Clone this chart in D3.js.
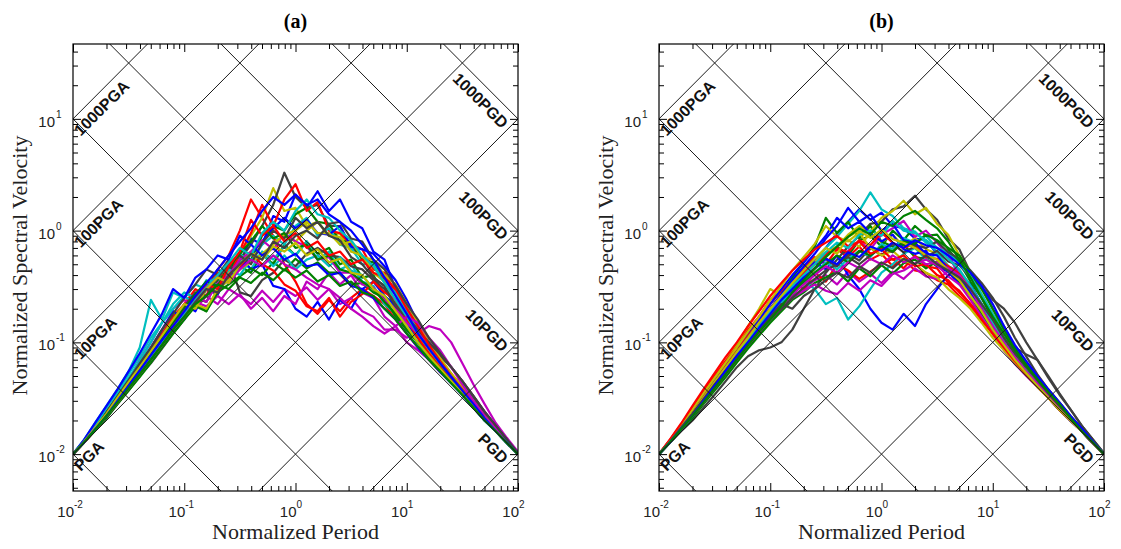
<!DOCTYPE html>
<html>
<head>
<meta charset="utf-8">
<script src="https://cdn.jsdelivr.net/npm/d3@7"></script>
<style>
  body { margin: 0; background: #fff; }
  svg { display: block; }
</style>
</head>
<body>
<div id="chart"></div>
<script>
// normalized period grid shared by every spectrum
const periods = [0.01,0.0126,0.0158,0.02,0.0251,0.0316,0.0398,0.0501,0.0631,0.0794,
                 0.1,0.126,0.158,0.2,0.251,0.316,0.398,0.501,0.631,0.794,
                 1,1.26,1.58,2,2.51,3.16,3.98,5.01,6.31,7.94,
                 10,12.6,15.8,20,25.1,31.6,39.8,50.1,63.1,79.4,100];

// panel (a) normalized spectral velocities
const spectraA = [
  [0.01,0.013,0.017,0.023,0.031,0.042,0.06,0.08,0.12,0.15, 0.22,0.19,0.3,0.27,0.45,0.52,0.85,0.75,1.35,1.2, 2.1,1.6,2.25,1.5,1.9,1.2,1.05,0.65,0.55,0.3, 0.22,0.13,0.1,0.066,0.052,0.038,0.029,0.022,0.017,0.013,0.01],
  [0.01,0.0128,0.0165,0.022,0.029,0.039,0.052,0.07,0.1,0.13, 0.17,0.22,0.19,0.3,0.36,0.48,0.42,0.62,0.5,0.75, 0.6,0.8,0.62,0.7,0.5,0.55,0.38,0.4,0.26,0.21, 0.14,0.11,0.075,0.06,0.045,0.035,0.027,0.021,0.016,0.0127,0.01],
  [0.01,0.013,0.017,0.023,0.031,0.043,0.06,0.085,0.12,0.17, 0.22,0.3,0.26,0.45,0.6,1.0,1.9,1.3,0.9,0.5, 0.35,0.22,0.18,0.24,0.19,0.25,0.3,0.26,0.22,0.16, 0.12,0.09,0.07,0.054,0.044,0.034,0.026,0.02,0.016,0.0126,0.01],
  [0.01,0.0135,0.019,0.027,0.038,0.055,0.09,0.24,0.16,0.28, 0.25,0.33,0.3,0.42,0.36,0.55,0.45,0.65,0.55,0.72, 0.6,0.8,0.55,0.65,0.45,0.5,0.35,0.32,0.22,0.18, 0.13,0.1,0.072,0.055,0.043,0.034,0.026,0.02,0.016,0.0126,0.01],
  [0.01,0.0128,0.0168,0.023,0.032,0.045,0.07,0.1,0.15,0.2, 0.24,0.2,0.26,0.22,0.3,0.26,0.22,0.29,0.23,0.3, 0.26,0.31,0.24,0.3,0.22,0.25,0.19,0.17,0.13,0.13, 0.11,0.12,0.14,0.13,0.1,0.065,0.042,0.028,0.019,0.014,0.0105],
  [0.01,0.0128,0.0166,0.022,0.029,0.039,0.052,0.07,0.095,0.13, 0.17,0.22,0.3,0.28,0.45,0.6,0.9,1.3,2.4,1.5, 1.6,1.1,1.2,0.9,0.95,0.65,0.6,0.42,0.36,0.23, 0.17,0.12,0.085,0.062,0.047,0.036,0.028,0.021,0.016,0.0128,0.01],
  [0.01,0.0127,0.0164,0.021,0.028,0.037,0.05,0.065,0.088,0.12, 0.16,0.22,0.3,0.45,0.38,0.55,0.75,1.1,1.7,3.3, 2.0,1.6,1.7,1.1,1.1,0.7,0.6,0.38,0.32,0.2, 0.16,0.12,0.09,0.075,0.06,0.045,0.032,0.023,0.017,0.013,0.01],
  [0.01,0.013,0.017,0.023,0.031,0.043,0.062,0.09,0.13,0.19, 0.16,0.26,0.33,0.3,0.45,0.6,0.45,0.5,0.32,0.3, 0.2,0.17,0.23,0.16,0.24,0.2,0.3,0.35,0.26,0.21, 0.15,0.11,0.08,0.06,0.046,0.035,0.027,0.021,0.016,0.0126,0.01],
  [0.01,0.0128,0.0167,0.022,0.03,0.041,0.056,0.076,0.1,0.14, 0.19,0.25,0.23,0.36,0.45,0.62,0.55,0.9,1.1,1.0, 1.4,1.6,1.2,1.15,0.8,0.8,0.55,0.52,0.35,0.27, 0.18,0.13,0.092,0.068,0.052,0.04,0.03,0.022,0.017,0.013,0.01],
  [0.01,0.0127,0.0164,0.022,0.029,0.039,0.052,0.07,0.095,0.13, 0.17,0.24,0.3,0.42,0.38,0.62,0.95,1.7,1.1,1.9, 2.6,1.5,1.8,1.0,0.95,0.75,0.68,0.45,0.42,0.28, 0.2,0.14,0.1,0.072,0.052,0.039,0.029,0.022,0.017,0.013,0.01],
  [0.01,0.013,0.0172,0.024,0.034,0.048,0.068,0.1,0.15,0.2, 0.26,0.22,0.34,0.38,0.5,0.62,0.52,0.75,0.9,0.75, 1.1,1.3,0.9,1.05,0.75,0.7,0.5,0.5,0.34,0.28, 0.19,0.13,0.09,0.066,0.05,0.038,0.029,0.022,0.017,0.013,0.01],
  [0.01,0.0128,0.0166,0.022,0.03,0.041,0.056,0.08,0.11,0.15, 0.19,0.23,0.21,0.26,0.22,0.27,0.2,0.25,0.19,0.26, 0.22,0.35,0.3,0.42,0.33,0.4,0.28,0.25,0.17,0.14, 0.1,0.085,0.07,0.058,0.046,0.036,0.028,0.021,0.016,0.0127,0.01],
  [0.01,0.0128,0.0166,0.022,0.03,0.04,0.055,0.075,0.1,0.14, 0.18,0.24,0.3,0.27,0.42,0.5,0.65,0.55,0.78,0.9, 0.8,1.0,1.2,0.9,0.88,0.65,0.6,0.42,0.35,0.22, 0.16,0.115,0.082,0.062,0.047,0.036,0.028,0.021,0.016,0.0126,0.01],
  [0.01,0.013,0.0172,0.024,0.033,0.046,0.065,0.09,0.13,0.18, 0.25,0.33,0.45,0.4,0.55,0.28,0.26,0.36,0.42,0.55, 0.48,0.62,0.7,0.6,0.58,0.48,0.45,0.36,0.3,0.22, 0.16,0.12,0.09,0.065,0.048,0.037,0.028,0.021,0.016,0.0127,0.01],
  [0.01,0.0128,0.0167,0.022,0.03,0.04,0.055,0.075,0.1,0.14, 0.19,0.24,0.3,0.27,0.4,0.45,0.62,0.8,1.05,1.3, 1.05,1.25,0.95,0.92,1.1,0.72,0.68,0.62,0.48,0.36, 0.24,0.15,0.1,0.07,0.052,0.039,0.03,0.022,0.017,0.013,0.01],
  [0.01,0.0127,0.0163,0.021,0.028,0.037,0.049,0.066,0.09,0.12, 0.16,0.21,0.19,0.28,0.33,0.39,0.46,0.4,0.52,0.44, 0.56,0.46,0.52,0.42,0.42,0.33,0.34,0.28,0.25,0.17, 0.13,0.1,0.075,0.057,0.044,0.034,0.026,0.02,0.016,0.0126,0.01],
  [0.01,0.0128,0.0166,0.022,0.029,0.039,0.053,0.072,0.1,0.13, 0.18,0.22,0.3,0.28,0.4,0.48,0.62,0.5,0.44,0.33, 0.29,0.21,0.19,0.25,0.17,0.23,0.27,0.35,0.28,0.24, 0.16,0.11,0.08,0.06,0.046,0.035,0.027,0.021,0.016,0.0127,0.01],
  [0.01,0.0133,0.018,0.026,0.036,0.052,0.075,0.11,0.15,0.22, 0.28,0.25,0.36,0.33,0.45,0.4,0.55,0.62,0.48,0.6, 0.45,0.55,0.6,0.48,0.58,0.44,0.4,0.3,0.26,0.19, 0.14,0.1,0.075,0.057,0.044,0.034,0.026,0.02,0.016,0.0126,0.01],
  [0.01,0.0128,0.0167,0.022,0.03,0.041,0.057,0.078,0.11,0.15, 0.2,0.26,0.23,0.34,0.4,0.55,0.65,0.82,0.68,0.95, 0.8,0.72,0.55,0.58,0.42,0.42,0.33,0.31,0.24,0.2, 0.15,0.12,0.1,0.08,0.06,0.045,0.033,0.024,0.018,0.0135,0.0102],
  [0.01,0.0127,0.0164,0.022,0.029,0.039,0.052,0.07,0.095,0.13, 0.17,0.22,0.2,0.3,0.36,0.45,0.52,0.62,0.75,0.92, 1.0,1.2,0.95,0.95,0.75,0.8,0.58,0.55,0.4,0.33, 0.22,0.15,0.1,0.072,0.053,0.04,0.03,0.022,0.017,0.013,0.01],
  [0.01,0.0129,0.017,0.023,0.031,0.043,0.06,0.082,0.115,0.16, 0.21,0.28,0.26,0.38,0.5,0.6,0.5,0.78,1.0,0.85, 1.3,1.05,1.2,0.9,0.82,0.58,0.5,0.38,0.32,0.21, 0.17,0.13,0.1,0.078,0.06,0.045,0.033,0.024,0.018,0.0135,0.0102],
  [0.01,0.0135,0.019,0.027,0.038,0.055,0.08,0.12,0.18,0.3, 0.25,0.38,0.45,0.6,0.55,0.9,0.75,0.6,0.7,0.55, 0.62,0.48,0.5,0.4,0.42,0.32,0.3,0.25,0.2,0.16, 0.12,0.09,0.07,0.054,0.043,0.034,0.026,0.02,0.016,0.0126,0.01],
  [0.01,0.0129,0.017,0.023,0.031,0.042,0.058,0.08,0.11,0.15, 0.2,0.27,0.35,0.32,0.48,0.62,0.8,1.1,0.85,0.95, 0.7,0.75,0.55,0.6,0.45,0.42,0.35,0.3,0.23,0.18, 0.13,0.1,0.075,0.058,0.045,0.035,0.027,0.021,0.016,0.0127,0.01],
  [0.01,0.0128,0.0166,0.022,0.03,0.04,0.055,0.075,0.1,0.14, 0.19,0.25,0.33,0.3,0.48,0.65,1.25,0.9,1.1,0.8, 0.95,0.7,0.8,0.6,0.65,0.5,0.55,0.42,0.38,0.3, 0.2,0.14,0.095,0.068,0.05,0.038,0.029,0.022,0.017,0.013,0.01],
  [0.01,0.0128,0.0166,0.022,0.03,0.04,0.054,0.073,0.1,0.13, 0.18,0.24,0.31,0.4,0.52,0.7,0.6,0.95,1.2,1.0, 1.5,1.9,1.4,1.3,1.0,0.82,0.6,0.48,0.34,0.24, 0.17,0.12,0.088,0.065,0.049,0.037,0.028,0.021,0.016,0.0127,0.01],
  [0.01,0.0128,0.0166,0.022,0.029,0.039,0.052,0.07,0.095,0.13, 0.17,0.23,0.3,0.38,0.34,0.45,0.55,0.48,0.6,0.5, 0.45,0.38,0.33,0.3,0.25,0.2,0.17,0.14,0.12,0.14, 0.17,0.15,0.11,0.085,0.06,0.042,0.03,0.022,0.017,0.0132,0.0102],
  [0.01,0.013,0.0172,0.023,0.032,0.044,0.06,0.083,0.115,0.16, 0.22,0.2,0.3,0.38,0.34,0.5,0.62,0.55,0.72,0.65, 0.78,0.6,0.68,0.52,0.56,0.42,0.4,0.3,0.26,0.19, 0.14,0.1,0.076,0.058,0.045,0.035,0.027,0.021,0.016,0.0127,0.01],
  [0.01,0.0127,0.0164,0.022,0.029,0.039,0.052,0.07,0.095,0.13, 0.17,0.23,0.3,0.28,0.4,0.5,0.62,0.55,0.8,0.7, 0.9,1.0,0.85,1.15,1.2,0.85,0.8,0.55,0.45,0.32, 0.22,0.16,0.11,0.08,0.06,0.045,0.033,0.024,0.018,0.0135,0.0102],
  [0.01,0.0128,0.0167,0.022,0.03,0.041,0.056,0.077,0.105,0.14, 0.19,0.26,0.34,0.45,0.6,0.8,1.05,1.5,2.0,1.7, 2.1,1.7,1.9,1.4,1.2,1.0,0.75,0.55,0.38,0.26, 0.18,0.12,0.088,0.065,0.049,0.037,0.028,0.021,0.016,0.0127,0.01],
  [0.01,0.0128,0.0165,0.022,0.029,0.039,0.052,0.07,0.095,0.13, 0.17,0.22,0.26,0.33,0.3,0.38,0.34,0.42,0.36,0.45, 0.38,0.44,0.35,0.4,0.32,0.35,0.28,0.26,0.2,0.16, 0.12,0.092,0.07,0.055,0.043,0.034,0.026,0.02,0.016,0.0126,0.01]
];

// panel (b) normalized spectral velocities
const spectraB = [
  [0.01,0.013,0.017,0.023,0.031,0.042,0.057,0.078,0.105,0.14, 0.19,0.25,0.32,0.42,0.55,0.7,0.95,1.2,1.55,1.25, 1.45,1.1,1.05,0.85,0.82,0.62,0.6,0.42,0.33,0.22, 0.15,0.1,0.072,0.054,0.042,0.033,0.026,0.02,0.016,0.0126,0.01],
  [0.01,0.0128,0.0168,0.022,0.03,0.041,0.055,0.074,0.1,0.13, 0.18,0.23,0.3,0.37,0.46,0.6,0.72,0.6,0.82,0.9, 0.72,1.0,0.82,1.1,0.9,0.92,0.68,0.52,0.35,0.25, 0.16,0.11,0.078,0.057,0.044,0.034,0.026,0.02,0.016,0.0126,0.01],
  [0.01,0.0135,0.018,0.025,0.035,0.049,0.068,0.095,0.13,0.17, 0.24,0.29,0.36,0.46,0.58,0.5,0.68,0.58,0.72,0.55, 0.62,0.48,0.56,0.44,0.42,0.36,0.33,0.26,0.21,0.16, 0.12,0.09,0.068,0.052,0.041,0.032,0.025,0.02,0.016,0.0126,0.01],
  [0.01,0.0128,0.0166,0.022,0.03,0.04,0.053,0.072,0.097,0.13, 0.17,0.23,0.3,0.4,0.52,0.7,0.88,1.15,1.5,2.2, 1.55,1.35,1.05,0.98,0.78,0.65,0.48,0.42,0.3,0.22, 0.15,0.1,0.074,0.055,0.043,0.033,0.026,0.02,0.016,0.0126,0.01],
  [0.01,0.0128,0.0166,0.022,0.029,0.039,0.052,0.07,0.093,0.12, 0.16,0.2,0.26,0.3,0.36,0.4,0.33,0.43,0.35,0.41, 0.34,0.43,0.37,0.46,0.39,0.37,0.43,0.34,0.26,0.17, 0.12,0.088,0.066,0.051,0.04,0.032,0.025,0.02,0.016,0.0126,0.01],
  [0.01,0.0132,0.0178,0.025,0.035,0.049,0.068,0.095,0.14,0.2, 0.3,0.26,0.36,0.42,0.52,0.64,0.72,0.82,0.72,0.95, 0.78,0.92,0.72,0.86,0.68,0.62,0.48,0.4,0.28,0.2, 0.14,0.1,0.072,0.054,0.042,0.033,0.026,0.02,0.016,0.0126,0.01],
  [0.01,0.0127,0.016,0.02,0.026,0.034,0.045,0.06,0.075,0.085, 0.09,0.1,0.13,0.2,0.3,0.42,0.55,0.72,0.9,1.15, 1.2,1.55,1.65,2.05,1.55,1.25,0.85,0.68,0.42,0.32, 0.2,0.14,0.09,0.078,0.07,0.05,0.035,0.025,0.018,0.0135,0.0102],
  [0.01,0.013,0.0172,0.023,0.032,0.044,0.06,0.082,0.11,0.15, 0.2,0.26,0.34,0.42,0.52,0.45,0.6,0.4,0.3,0.2, 0.15,0.13,0.18,0.14,0.22,0.3,0.4,0.42,0.3,0.2, 0.13,0.09,0.068,0.052,0.041,0.032,0.025,0.02,0.016,0.0126,0.01],
  [0.01,0.0129,0.017,0.023,0.031,0.042,0.058,0.08,0.11,0.15, 0.2,0.27,0.38,0.52,0.72,1.3,0.95,1.2,0.85,1.1, 0.8,0.72,0.75,0.58,0.56,0.48,0.43,0.34,0.27,0.19, 0.13,0.095,0.07,0.053,0.041,0.032,0.025,0.02,0.016,0.0126,0.01],
  [0.01,0.0135,0.0185,0.026,0.036,0.05,0.068,0.09,0.12,0.17, 0.22,0.29,0.35,0.3,0.42,0.35,0.5,0.44,0.37,0.43, 0.5,0.56,0.46,0.6,0.48,0.46,0.34,0.29,0.22,0.17, 0.12,0.09,0.068,0.052,0.041,0.032,0.025,0.02,0.016,0.0126,0.01],
  [0.01,0.0128,0.0166,0.022,0.03,0.04,0.054,0.074,0.1,0.13, 0.18,0.24,0.3,0.36,0.3,0.22,0.25,0.16,0.21,0.3, 0.42,0.5,0.62,0.7,0.55,0.62,0.48,0.43,0.3,0.22, 0.15,0.1,0.074,0.056,0.043,0.033,0.026,0.02,0.016,0.0126,0.01],
  [0.01,0.0129,0.017,0.022,0.03,0.041,0.055,0.074,0.1,0.13, 0.17,0.22,0.28,0.36,0.46,0.56,0.48,0.66,0.8,0.68, 0.92,1.05,1.22,0.88,1.0,0.78,0.6,0.4,0.28,0.18, 0.12,0.085,0.064,0.05,0.04,0.032,0.025,0.02,0.016,0.0126,0.01],
  [0.01,0.0128,0.0166,0.022,0.03,0.04,0.053,0.072,0.097,0.13, 0.17,0.22,0.28,0.35,0.45,0.58,0.72,0.92,1.1,0.98, 1.3,1.5,1.85,1.4,1.6,1.15,0.92,0.6,0.42,0.27, 0.18,0.12,0.085,0.062,0.047,0.036,0.028,0.021,0.016,0.0127,0.01],
  [0.01,0.013,0.017,0.023,0.031,0.042,0.057,0.077,0.1,0.13, 0.17,0.22,0.29,0.37,0.46,0.56,0.48,0.62,0.54,0.7, 0.6,0.76,0.64,0.72,0.58,0.66,0.53,0.49,0.38,0.31, 0.24,0.2,0.15,0.1,0.07,0.048,0.034,0.025,0.018,0.0135,0.0102],
  [0.01,0.0132,0.0178,0.024,0.033,0.046,0.063,0.086,0.12,0.16, 0.22,0.3,0.4,0.52,0.68,0.9,1.3,1.05,1.2,0.95, 0.8,0.92,0.68,0.62,0.66,0.48,0.43,0.33,0.27,0.19, 0.13,0.095,0.07,0.053,0.041,0.032,0.025,0.02,0.016,0.0126,0.01],
  [0.01,0.0127,0.0163,0.021,0.028,0.037,0.049,0.066,0.088,0.115, 0.15,0.19,0.24,0.28,0.34,0.38,0.43,0.35,0.46,0.39, 0.49,0.41,0.51,0.55,0.46,0.53,0.44,0.36,0.26,0.18, 0.13,0.095,0.07,0.053,0.041,0.032,0.025,0.02,0.016,0.0126,0.01],
  [0.01,0.0131,0.0175,0.024,0.033,0.045,0.062,0.085,0.115,0.15, 0.2,0.26,0.33,0.42,0.5,0.62,0.7,0.64,0.82,0.74, 0.96,0.78,0.7,0.76,0.58,0.56,0.48,0.41,0.3,0.21, 0.15,0.1,0.074,0.055,0.043,0.033,0.026,0.02,0.016,0.0126,0.01],
  [0.01,0.0128,0.0167,0.022,0.03,0.041,0.056,0.076,0.1,0.135, 0.18,0.23,0.28,0.35,0.42,0.52,0.45,0.56,0.66,0.58, 0.76,0.68,0.86,0.78,0.9,0.7,0.64,0.5,0.39,0.27, 0.18,0.12,0.085,0.062,0.047,0.036,0.028,0.021,0.016,0.0127,0.01],
  [0.01,0.0129,0.0168,0.022,0.03,0.041,0.055,0.074,0.098,0.13, 0.16,0.2,0.25,0.29,0.33,0.29,0.27,0.34,0.29,0.36, 0.32,0.41,0.44,0.51,0.55,0.49,0.39,0.33,0.24,0.17, 0.12,0.088,0.066,0.051,0.04,0.032,0.025,0.02,0.016,0.0126,0.01],
  [0.01,0.0133,0.018,0.025,0.035,0.048,0.066,0.09,0.125,0.17, 0.24,0.32,0.44,0.58,0.76,1.1,0.88,0.8,0.96,0.7, 0.6,0.66,0.54,0.5,0.42,0.38,0.3,0.25,0.2,0.15, 0.11,0.085,0.066,0.051,0.04,0.032,0.025,0.02,0.016,0.0126,0.01],
  [0.01,0.0128,0.0165,0.022,0.029,0.039,0.052,0.07,0.095,0.125, 0.16,0.2,0.25,0.31,0.37,0.44,0.5,0.58,0.5,0.6, 0.7,0.64,0.8,0.74,0.7,0.8,0.64,0.56,0.44,0.34, 0.25,0.17,0.11,0.075,0.052,0.038,0.029,0.022,0.017,0.013,0.01],
  [0.01,0.013,0.0172,0.023,0.032,0.044,0.06,0.082,0.11,0.15, 0.2,0.27,0.36,0.48,0.62,0.85,1.1,1.6,1.2,1.4, 1.0,1.15,0.82,0.78,0.62,0.6,0.45,0.38,0.28,0.2, 0.14,0.1,0.072,0.054,0.042,0.033,0.026,0.02,0.016,0.0126,0.01],
  [0.01,0.0128,0.0166,0.022,0.029,0.039,0.052,0.07,0.094,0.125, 0.16,0.21,0.27,0.34,0.42,0.5,0.6,0.52,0.66,0.6, 0.72,0.65,0.8,0.76,0.92,0.82,0.7,0.6,0.42,0.3, 0.2,0.13,0.09,0.064,0.048,0.036,0.028,0.021,0.016,0.0127,0.01],
  [0.01,0.0136,0.0188,0.027,0.038,0.053,0.074,0.1,0.14,0.19, 0.26,0.34,0.44,0.55,0.68,0.78,0.9,0.72,0.8,0.62, 0.68,0.55,0.6,0.48,0.5,0.4,0.36,0.28,0.22,0.16, 0.12,0.09,0.068,0.052,0.041,0.032,0.025,0.02,0.016,0.0126,0.01],
  [0.01,0.0129,0.017,0.023,0.031,0.042,0.057,0.078,0.105,0.14, 0.19,0.25,0.32,0.4,0.5,0.64,0.78,0.7,0.92,1.0, 0.9,1.22,1.0,0.95,0.82,0.7,0.56,0.45,0.32,0.22, 0.15,0.1,0.074,0.055,0.043,0.033,0.026,0.02,0.016,0.0126,0.01],
  [0.01,0.0128,0.0166,0.022,0.029,0.039,0.052,0.07,0.094,0.125, 0.16,0.21,0.27,0.33,0.4,0.48,0.42,0.52,0.46,0.56, 0.5,0.6,0.52,0.58,0.5,0.52,0.46,0.4,0.3,0.2, 0.14,0.1,0.074,0.055,0.043,0.033,0.026,0.02,0.016,0.0126,0.01],
  [0.01,0.013,0.0172,0.023,0.032,0.044,0.06,0.082,0.11,0.15, 0.2,0.26,0.34,0.44,0.56,0.7,0.62,0.88,1.0,0.86, 1.02,0.84,0.78,0.7,0.6,0.55,0.44,0.36,0.26,0.19, 0.13,0.095,0.07,0.053,0.041,0.032,0.025,0.02,0.016,0.0126,0.01],
  [0.01,0.013,0.0172,0.023,0.031,0.042,0.056,0.075,0.1,0.13, 0.17,0.22,0.2,0.26,0.3,0.36,0.42,0.38,0.48,0.42, 0.52,0.46,0.56,0.5,0.6,0.5,0.44,0.38,0.3,0.22, 0.16,0.11,0.08,0.06,0.046,0.035,0.027,0.021,0.016,0.0127,0.01],
  [0.01,0.0128,0.0167,0.022,0.03,0.041,0.056,0.076,0.1,0.135, 0.18,0.24,0.3,0.38,0.46,0.56,0.5,0.64,0.58,0.72, 0.66,0.78,0.7,0.82,0.74,0.7,0.6,0.5,0.42,0.32, 0.22,0.14,0.095,0.068,0.05,0.038,0.029,0.022,0.017,0.013,0.01],
  [0.01,0.0128,0.0166,0.022,0.029,0.039,0.052,0.07,0.094,0.125, 0.16,0.21,0.28,0.36,0.46,0.58,0.72,0.88,1.05,0.92, 1.2,1.1,1.35,1.5,1.25,1.05,0.8,0.55,0.38,0.25, 0.17,0.12,0.085,0.062,0.047,0.036,0.028,0.021,0.016,0.0127,0.01]
];

const lineColors   = ["#0000ff", "#008000", "#ff0000", "#00bfbf", "#bf00bf", "#bfbf00", "#404040"];
const xTickValues  = [0.01, 0.1, 1, 10, 100];
const xTickExps    = ["-2", "-1", "0", "1", "2"];
const yTickValues  = [0.01, 0.1, 1, 10];
const yTickExps    = ["-2", "-1", "0", "1"];
const guideFactors = [1e-5, 1e-4, 1e-3, 1e-2, 1e-1, 1, 10, 100, 1000, 1e4];
const labelFactors = [1, 10, 100, 1000];
const pgaLabels    = ["PGA", "10PGA", "100PGA", "1000PGA"];
const pgdLabels    = ["PGD", "10PGD", "100PGD", "1000PGD"];
const panelTitles  = ["(a)", "(b)"];

const PLOT_W = 445, PLOT_H = 447;
const SANS  = "'Liberation Sans', Arial, sans-serif";
const SERIF = "'Liberation Serif', 'Times New Roman', serif";

const svg = d3.select("#chart").append("svg")
    .attr("width", 1121)
    .attr("height", 549);

const xScale = d3.scaleLog().domain([0.01, 100]).range([0, PLOT_W]);
const yScale = d3.scaleLog().domain([Math.pow(10, -2.33), Math.pow(10, 1.67)]).range([PLOT_H, 0]);

const isDecade = v => Math.abs(Math.log10(v) - Math.round(Math.log10(v))) < 1e-6;

const panels = [
    { left: 73,  top: 44, title: panelTitles[0], data: spectraA },
    { left: 659, top: 44, title: panelTitles[1], data: spectraB }
];

panels.forEach((p, idx) => drawPanel(p, idx));

function drawPanel(p, idx) {
    const g = svg.append("g").attr("transform", `translate(${p.left},${p.top})`);

    g.append("clipPath").attr("id", "clip" + idx)
        .append("rect").attr("width", PLOT_W).attr("height", PLOT_H);
    const plot = g.append("g").attr("clip-path", `url(#clip${idx})`);

    // spectra
    const line = d3.line()
        .x((d, i) => xScale(periods[i]))
        .y(d => yScale(d));

    plot.selectAll("path.spec")
        .data(p.data)
        .enter()
        .append("path")
        .attr("class", "spec")
        .attr("d", line)
        .attr("fill", "none")
        .attr("stroke", (d, i) => lineColors[i % lineColors.length])
        .attr("stroke-width", 2.2)
        .attr("stroke-linejoin", "round");

    // tripartite guide lines (Sv = k*T and Sv = k/T)
    guideFactors.forEach(k => {
        plot.append("line")
            .attr("x1", xScale(1e-3)).attr("y1", yScale(k * 1e-3))
            .attr("x2", xScale(1e3)).attr("y2", yScale(k * 1e3))
            .attr("stroke", "#1a1a1a").attr("stroke-width", 1);
        plot.append("line")
            .attr("x1", xScale(1e-3)).attr("y1", yScale(k / 1e-3))
            .attr("x2", xScale(1e3)).attr("y2", yScale(k / 1e3))
            .attr("stroke", "#1a1a1a").attr("stroke-width", 1);
    });

    // inward ticks on all four sides
    const minorX = xScale.ticks().filter(t => !isDecade(t));
    const minorY = yScale.ticks().filter(t => !isDecade(t));
    const majorY = yScale.ticks().filter(t => isDecade(t));
    const sides = [
        [d3.axisBottom(xScale), `translate(0,${PLOT_H})`, minorX, xTickValues],
        [d3.axisTop(xScale),    "translate(0,0)",         minorX, xTickValues],
        [d3.axisLeft(yScale),   "translate(0,0)",         minorY, majorY],
        [d3.axisRight(yScale),  `translate(${PLOT_W},0)`, minorY, majorY]
    ];
    sides.forEach(([axis, tr, minor, major]) => {
        g.append("g").attr("transform", tr)
            .call(axis.tickValues(minor).tickSize(-5).tickFormat(""))
            .call(a => a.select(".domain").remove());
        g.append("g").attr("transform", tr)
            .call(axis.tickValues(major).tickSize(-8).tickFormat(""))
            .call(a => a.select(".domain").remove());
    });
    g.selectAll(".tick line").attr("stroke", "#000");

    g.append("rect")
        .attr("width", PLOT_W).attr("height", PLOT_H)
        .attr("fill", "none").attr("stroke", "#000").attr("stroke-width", 1.2);

    // tick labels 10^n
    xTickValues.forEach((v, i) => {
        g.append("text").attr("x", xScale(v) + 1).attr("y", PLOT_H + 26)
            .attr("text-anchor", "end").style("font", `15px ${SANS}`).attr("fill", "#222")
            .text("10");
        g.append("text").attr("x", xScale(v) + 1).attr("y", PLOT_H + 17)
            .style("font", `10px ${SANS}`).attr("fill", "#222")
            .text(xTickExps[i]);
    });
    yTickValues.forEach((v, i) => {
        g.append("text").attr("x", -18).attr("y", yScale(v) + 8)
            .attr("text-anchor", "end").style("font", `15px ${SANS}`).attr("fill", "#222")
            .text("10");
        g.append("text").attr("x", -17).attr("y", yScale(v) - 1)
            .style("font", `10px ${SANS}`).attr("fill", "#222")
            .text(yTickExps[i]);
    });

    // PGA / PGD labels
    labelFactors.forEach((k, i) => {
        g.append("text")
            .attr("transform", `translate(7.7,${yScale(k * 0.01) + 18}) rotate(-45)`)
            .style("font", `bold 16px ${SANS}`).attr("fill", "#111")
            .text(pgaLabels[i]);
        g.append("text")
            .attr("transform", `translate(${PLOT_W - 16.5},${yScale(k / 100) + 10.5}) rotate(45)`)
            .attr("text-anchor", "end")
            .style("font", `bold 16px ${SANS}`).attr("fill", "#111")
            .text(pgdLabels[i]);
    });

    // titles
    g.append("text").attr("x", PLOT_W / 2).attr("y", -16)
        .attr("text-anchor", "middle").style("font", `bold 20px ${SERIF}`)
        .text(p.title);
    g.append("text").attr("x", PLOT_W / 2).attr("y", PLOT_H + 48)
        .attr("text-anchor", "middle").style("font", `22px ${SERIF}`).attr("fill", "#222")
        .text("Normalized Period");
    g.append("text")
        .attr("transform", `translate(-46,${PLOT_H / 2 - 2}) rotate(-90)`)
        .attr("text-anchor", "middle").style("font", `22px ${SERIF}`).attr("fill", "#222")
        .text("Normalized Spectral Velocity");
}
</script>
</body>
</html>
